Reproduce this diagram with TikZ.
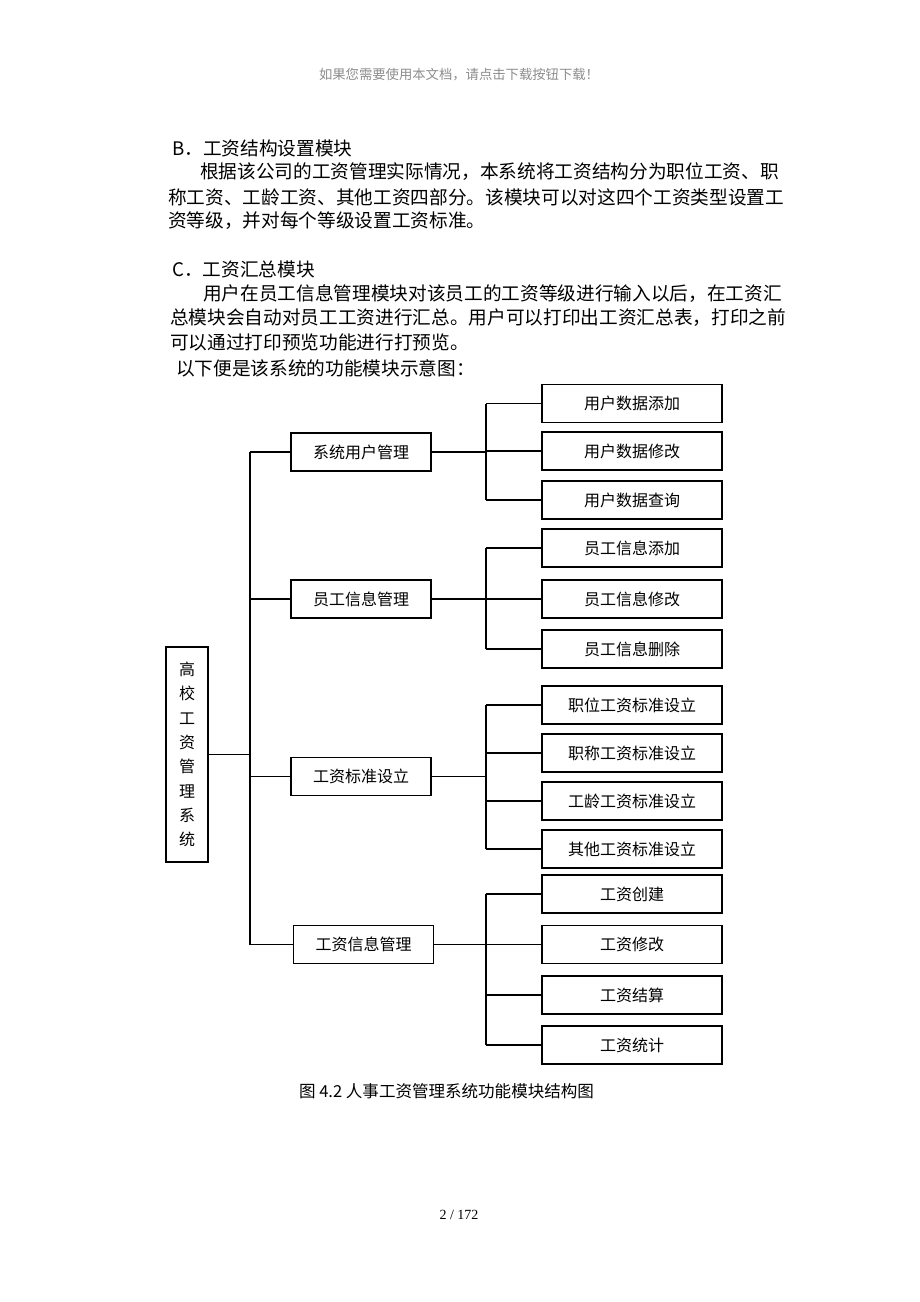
\documentclass[tikz,border=0pt]{standalone}
\usepackage{fontspec}
\setmainfont{Liberation Serif}
\newfontfamily\cjk{Noto Sans CJK SC}

\begin{document}
\begin{tikzpicture}[x=0.75pt, y=-0.75pt,
    para/.style={anchor=west, inner sep=0pt, font=\cjk\fontsize{14}{18}\selectfont},
    box1/.style={draw, line width=1.1pt, minimum width=105pt, minimum height=28.5pt, inner sep=0pt, font=\cjk\fontsize{12}{14}\selectfont},
    box2/.style={box1, minimum width=135pt},
    link/.style={line width=0.9pt}]
            \useasboundingbox (0,0) rectangle (920,1302);

            % page text
            \node[inner sep=0pt, text=black!45, font=\cjk\fontsize{10}{12}\selectfont] (hd) at (459,75) {如果您需要使用本文档，请点击下载按钮下载！};
            \node[para] (tB) at (172,148) {B．工资结构设置模块};
            \node[para] (pB1) at (200,172) {根据该公司的工资管理实际情况，本系统将工资结构分为职位工资、职};
            \node[para] (pB2) at (168,197) {称工资、工龄工资、其他工资四部分。该模块可以对这四个工资类型设置工};
            \node[para] (pB3) at (168,221) {资等级，并对每个等级设置工资标准。};
            \node[para] (tC) at (172,269) {C．工资汇总模块};
            \node[para] (pC1) at (203,294) {用户在员工信息管理模块对该员工的工资等级进行输入以后，在工资汇};
            \node[para] (pC2) at (170,318) {总模块会自动对员工工资进行汇总。用户可以打印出工资汇总表，打印之前};
            \node[para] (pC3) at (170,342) {可以通过打印预览功能进行打预览。};
            \node[para] (pD) at (176,368) {以下便是该系统的功能模块示意图：};

            % root
            \node[box1, minimum width=31.5pt, minimum height=161.25pt, align=center, font=\cjk\fontsize{12}{18.2}\selectfont] (R) at (187,754.5) {高\\校\\工\\资\\管\\理\\系\\统};

            % level 1
            \node[box1] (A) at (361,452) {系统用户管理};
            \node[box1] (B) at (361,599) {员工信息管理};
            \node[box1] (C) at (361,776.5) {工资标准设立};
            \node[box1] (D) at (363.5,944.5) {工资信息管理};

            % level 2
            \node[box2] (A1) at (632,403.5) {用户数据添加};
            \node[box2] (A2) at (632,451) {用户数据修改};
            \node[box2] (A3) at (632,500) {用户数据查询};
            \node[box2] (B1) at (632,548) {员工信息添加};
            \node[box2] (B2) at (632,599) {员工信息修改};
            \node[box2] (B3) at (632,649) {员工信息删除};
            \node[box2] (C1) at (632,705) {职位工资标准设立};
            \node[box2] (C2) at (632,753) {职称工资标准设立};
            \node[box2] (C3) at (632,801) {工龄工资标准设立};
            \node[box2] (C4) at (632,849) {其他工资标准设立};
            \node[box2] (D1) at (632,894) {工资创建};
            \node[box2] (D2) at (632,944.5) {工资修改};
            \node[box2] (D3) at (632,995) {工资结算};
            \node[box2] (D4) at (632,1045) {工资统计};

            % trunk and branches
            \coordinate (T) at (250,452);
            \coordinate (G) at (486,452);
            \draw[link] (A.west -| T) -- (D.west -| T);
            \draw[link] (R.east) -- (R.east -| T);
            \draw[link] (A.west) -- (A.west -| T);
            \draw[link] (B.west) -- (B.west -| T);
            \draw[link] (C.west) -- (C.west -| T);
            \draw[link] (D.west) -- (D.west -| T);

            \draw[link] (A.east) -- (A.east -| G);
            \draw[link] (A1.west -| G) -- (A3.west -| G);
            \draw[link] (A1.west) -- (A1.west -| G);
            \draw[link] (A2.west) -- (A2.west -| G);
            \draw[link] (A3.west) -- (A3.west -| G);

            \draw[link] (B.east) -- (B.east -| G);
            \draw[link] (B1.west -| G) -- (B3.west -| G);
            \draw[link] (B1.west) -- (B1.west -| G);
            \draw[link] (B2.west) -- (B2.west -| G);
            \draw[link] (B3.west) -- (B3.west -| G);

            \draw[link] (C.east) -- (C.east -| G);
            \draw[link] (C1.west -| G) -- (C4.west -| G);
            \draw[link] (C1.west) -- (C1.west -| G);
            \draw[link] (C2.west) -- (C2.west -| G);
            \draw[link] (C3.west) -- (C3.west -| G);
            \draw[link] (C4.west) -- (C4.west -| G);

            \draw[link] (D.east) -- (D.east -| G);
            \draw[link] (D1.west -| G) -- (D4.west -| G);
            \draw[link] (D1.west) -- (D1.west -| G);
            \draw[link] (D2.west) -- (D2.west -| G);
            \draw[link] (D3.west) -- (D3.west -| G);
            \draw[link] (D4.west) -- (D4.west -| G);

            % caption and page number
            \node[inner sep=0pt, font=\cjk\fontsize{12.4}{14}\selectfont] (cap) at (446.5,1091) {图 4.2 人事工资管理系统功能模块结构图};
            \node[inner sep=0pt, font=\fontsize{10.5}{12}\selectfont] (pg) at (459,1215) {2 / 172};
        \end{tikzpicture}
\end{document}
